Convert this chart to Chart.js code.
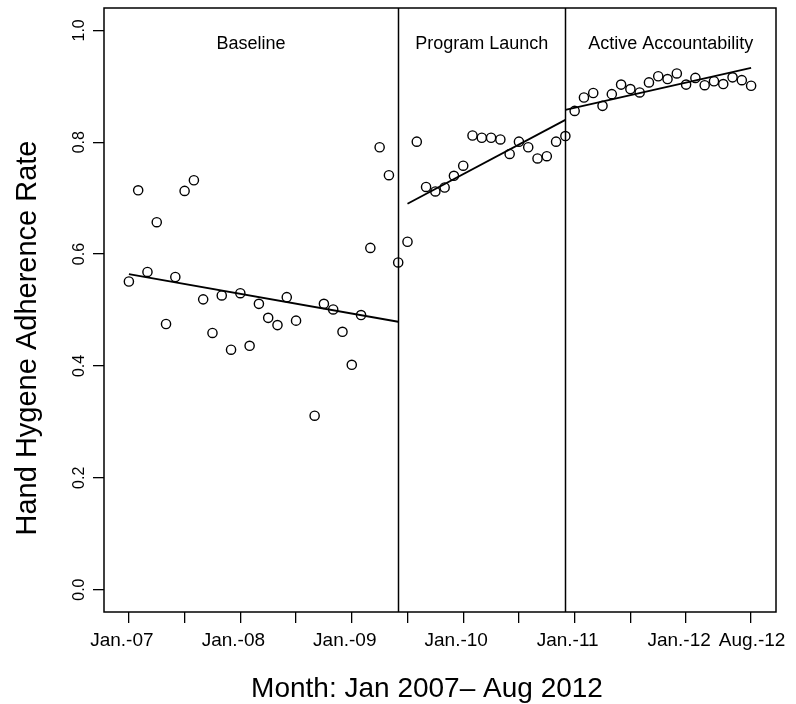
<!DOCTYPE html>
<html>
<head>
<meta charset="utf-8">
<script src="https://cdn.jsdelivr.net/npm/chart.js@4/dist/chart.umd.min.js"></script>
<style>
  html, body { margin: 0; padding: 0; background: #fff; }
  #wrap { width: 796px; height: 704px; }
</style>
</head>
<body>
<div id="wrap"><canvas id="myChart" width="796" height="704"></canvas></div>
<script>
// months since Jan 2007 (Aug 2008 has no observation)
const months = [
  0, 1, 2, 3, 4, 5, 6, 7, 8, 9, 10, 11, 12, 13, 14, 15, 16, 17, 18,
  20, 21, 22, 23, 24, 25, 26, 27, 28, 29, 30, 31, 32, 33, 34, 35, 36, 37, 38, 39,
  40, 41, 42, 43, 44, 45, 46, 47, 48, 49, 50, 51, 52, 53, 54, 55, 56, 57, 58, 59,
  60, 61, 62, 63, 64, 65, 66, 67
];
const rates = [
  0.551, 0.714, 0.568, 0.657, 0.475, 0.559, 0.713, 0.732, 0.519, 0.459, 0.526, 0.429,
  0.530, 0.436, 0.511, 0.486, 0.473, 0.523, 0.481,
  0.311, 0.511, 0.501, 0.461, 0.402, 0.491, 0.611, 0.791, 0.741, 0.585, 0.622, 0.801,
  0.720, 0.712, 0.719, 0.740, 0.758, 0.812, 0.808, 0.808, 0.805, 0.779, 0.801, 0.791,
  0.771, 0.775, 0.801, 0.811, 0.856, 0.880, 0.888, 0.865, 0.886, 0.903, 0.895, 0.889,
  0.907, 0.918, 0.913, 0.923, 0.903, 0.915, 0.902, 0.909, 0.904, 0.916, 0.911, 0.901
];

const xTickMonths = [0, 6, 12, 18, 24, 30, 36, 42, 48, 54, 60, 67];
const xLabelMonths = [0, 12, 24, 36, 48, 60, 67];
const xLabels = ["Jan.-07", "Jan.-08", "Jan.-09", "Jan.-10", "Jan.-11", "Jan.-12", "Aug.-12"];
const yTickValues = [0, 0.2, 0.4, 0.6, 0.8, 1.0];

const phaseNames = ["Baseline", "Program Launch", "Active Accountability"];
const phaseBreaks = [29, 47];

// fitted trend per phase
const fitStartMonth = [0, 30, 47];
const fitEndMonth = [29, 47, 67];
const fitStartRate = [0.564, 0.690, 0.858];
const fitEndRate = [0.479, 0.840, 0.933];

const FONT = "'Liberation Sans', Arial, sans-serif";

const points = months.map(function (m, i) {
  return { x: m, y: rates[i] };
});

const fitSets = fitStartMonth.map(function (m, i) {
  return {
    type: "line",
    data: [
      { x: m, y: fitStartRate[i] },
      { x: fitEndMonth[i], y: fitEndRate[i] },
    ],
    borderColor: "#000",
    borderWidth: 1.8,
    pointRadius: 0,
    showLine: true,
    fill: false,
  };
});

const decor = {
  id: "decor",
  afterDraw: function (chart) {
    const ctx = chart.ctx;
    const area = chart.chartArea;
    const xs = chart.scales.x;
    const ys = chart.scales.y;
    ctx.save();
    ctx.strokeStyle = "#000";
    ctx.fillStyle = "#000";

    // phase boundaries
    ctx.lineWidth = 1.5;
    phaseBreaks.forEach(function (b) {
      const px = Math.round(xs.getPixelForValue(b)) + 0.5;
      ctx.beginPath();
      ctx.moveTo(px, area.top);
      ctx.lineTo(px, area.bottom);
      ctx.stroke();
    });

    // plot box
    ctx.strokeRect(area.left, area.top, area.right - area.left, area.bottom - area.top);

    // phase names, centred in each phase
    const bounds = [xs.min].concat(phaseBreaks, [xs.max]);
    ctx.font = "18px " + FONT;
    ctx.textAlign = "center";
    ctx.textBaseline = "middle";
    phaseNames.forEach(function (name, i) {
      const cx = xs.getPixelForValue((bounds[i] + bounds[i + 1]) / 2);
      ctx.fillText(name, cx, ys.getPixelForValue(0.975));
    });

    // x tick labels: Jan labels sit a little left of their tick, the last one is centred
    ctx.font = "19px " + FONT;
    ctx.textBaseline = "alphabetic";
    xLabelMonths.forEach(function (m, i) {
      const shift = i === xLabelMonths.length - 1 ? 1 : -7;
      ctx.fillText(xLabels[i], xs.getPixelForValue(m) + shift, area.bottom + 34);
    });

    // rotated y tick labels
    ctx.font = "16px " + FONT;
    yTickValues.forEach(function (v) {
      ctx.save();
      ctx.translate(area.left - 20, ys.getPixelForValue(v));
      ctx.rotate(-Math.PI / 2);
      ctx.fillText(v.toFixed(1), 0, 0);
      ctx.restore();
    });

    // axis titles
    ctx.font = "29px " + FONT;
    ctx.save();
    ctx.translate(area.left - 68, (area.top + area.bottom) / 2 + 28);
    ctx.rotate(-Math.PI / 2);
    ctx.fillText("Hand Hygene Adherence Rate", 0, 0);
    ctx.restore();
    ctx.font = "28px " + FONT;
    ctx.fillText("Month: Jan 2007\u2013 Aug 2012", (area.left + area.right) / 2 - 13, area.bottom + 85);
    ctx.restore();
  },
};

const ctx = document.getElementById("myChart").getContext("2d");
const myChart = new Chart(ctx, {
  type: "scatter",
  data: {
    datasets: [
      {
        data: points,
        showLine: false,
        pointStyle: "circle",
        pointRadius: 4.6,
        pointBorderWidth: 1.4,
        borderColor: "#000",
        backgroundColor: "rgba(0,0,0,0)",
      },
    ].concat(fitSets),
  },
  options: {
    responsive: false,
    animation: false,
    devicePixelRatio: 1,
    layout: { padding: { left: 0, right: 20, top: 8, bottom: 0 } },
    plugins: {
      legend: { display: false },
      tooltip: { enabled: false },
    },
    scales: {
      x: {
        type: "linear",
        min: -2.68,
        max: 69.68,
        afterBuildTicks: function (scale) {
          scale.ticks = xTickMonths.map(function (v) { return { value: v }; });
        },
        afterFit: function (scale) { scale.height = 92; },
        border: { display: false },
        grid: {
          drawOnChartArea: false,
          drawTicks: true,
          tickLength: 11,
          color: "#000",
          lineWidth: 1.3,
        },
        ticks: { display: false },
      },
      y: {
        min: -0.04,
        max: 1.04,
        afterBuildTicks: function (scale) {
          scale.ticks = yTickValues.map(function (v) { return { value: v }; });
        },
        afterFit: function (scale) { scale.width = 104; },
        border: { display: false },
        grid: {
          drawOnChartArea: false,
          drawTicks: true,
          tickLength: 11,
          color: "#000",
          lineWidth: 1.3,
        },
        ticks: { display: false },
      },
    },
  },
  plugins: [decor],
});
</script>
</body>
</html>
